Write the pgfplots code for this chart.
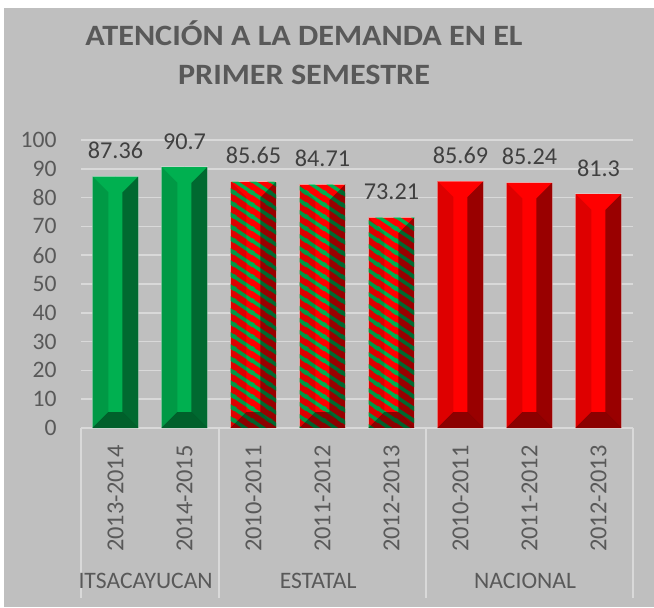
\documentclass[border=0pt]{standalone}
\usepackage{pgfplots}
\pgfplotsset{compat=1.18}
\usepackage{pgfplotstable}
\usepackage{fontspec}
\setmainfont{Carlito}
\usetikzlibrary{patterns}
\definecolor{bg}{HTML}{BFBFBF}
\definecolor{gridc}{HTML}{D9D9D9}
\definecolor{txt}{HTML}{595959}
\definecolor{lbl}{HTML}{404040}
\definecolor{gbar}{HTML}{00B050}
\definecolor{rbar}{HTML}{FF0000}

\pgfdeclarepatternformonly{estripes}{\pgfqpoint{0pt}{0pt}}{\pgfqpoint{9pt}{5.85pt}}{\pgfqpoint{9pt}{5.85pt}}{%
  \pgfsetlinewidth{1.8pt}%
  \pgfpathmoveto{\pgfqpoint{-4.5pt}{8.775pt}}\pgfpathlineto{\pgfqpoint{13.5pt}{-2.925pt}}%
  \pgfpathmoveto{\pgfqpoint{-4.5pt}{14.625pt}}\pgfpathlineto{\pgfqpoint{13.5pt}{2.925pt}}%
  \pgfpathmoveto{\pgfqpoint{-4.5pt}{2.925pt}}\pgfpathlineto{\pgfqpoint{13.5pt}{-8.775pt}}%
  \pgfusepath{stroke}%
}

\pgfplotstableread{
x y label
0 87.36 87.36
1 90.7 90.7
}\itsa
\pgfplotstableread{
x y label
2 85.65 85.65
3 84.71 84.71
4 73.21 73.21
}\estatal
\pgfplotstableread{
x y label
5 85.69 85.69
6 85.24 85.24
7 81.3 81.3
}\nacional

\newdimen\barH
\newdimen\barHi
\pgfplotsset{
  bevel/.style={scatter, only marks, mark=*, mark size=0pt,
    mark options={draw=none,fill=none},
    point meta=y,
    scatter/@pre marker code/.code={%
      \barH=\pgfplotspointmetatransformed pt
      \barH=-0.144\barH
      \barHi=\barH \advance\barHi by 8pt
      \path[draw=none,fill=black,fill opacity=0.13] (-11.5pt,0pt) -- (-3.5pt,-8pt) -- (-3.5pt,\barHi) -- (-11.5pt,\barH) -- cycle;
      \path[draw=none,fill=black,fill opacity=0.40] (11.5pt,0pt) -- (3.5pt,-8pt) -- (3.5pt,\barHi) -- (11.5pt,\barH) -- cycle;
      \path[draw=none,fill=black,fill opacity=0.45] (-11.5pt,\barH) -- (-3.5pt,\barHi) -- (3.5pt,\barHi) -- (11.5pt,\barH) -- cycle;
    },
    scatter/@post marker code/.code={},
  },
  mybar/.style={ybar, bar width=23pt, bar shift=0pt, draw=white, draw opacity=0.35, line width=0.4pt,
    nodes near coords, point meta=explicit symbolic,
    every node near coord/.append style={inner sep=0pt, yshift=8.5pt, text=lbl,
      font=\fontsize{12.1}{14}\selectfont}},
}

\begin{document}
\begin{tikzpicture}
\path[use as bounding box, fill=white] (0,0) rectangle (327pt,303.5pt);
\fill[bg] (2pt,0pt) rectangle (327pt,299.5pt);
\node[anchor=base, inner sep=0pt, text=txt, font=\fontsize{14.75}{17}\selectfont\bfseries] at (152pt,280.5pt) {\scalebox{1.09}[1]{ATENCIÓN A LA DEMANDA EN EL}};
\node[anchor=base, inner sep=0pt, text=txt, font=\fontsize{14.75}{17}\selectfont\bfseries] at (152pt,261.5pt) {\scalebox{1.09}[1]{PRIMER SEMESTRE}};
\begin{axis}[at={(40.5pt,89.5pt)}, anchor=south west, scale only axis,
  width=276pt, height=144pt,
  xmin=-0.5, xmax=7.5, ymin=0, ymax=100,
  point meta min=0, point meta max=100,
  ytick={0,10,...,100},
  xtick={0,...,7},
  xticklabels={2013-2014,2014-2015,2010-2011,2011-2012,2012-2013,2010-2011,2011-2012,2012-2013},
  axis line style={draw=none},
  major tick length=0pt,
  ymajorgrids, grid style={gridc, line width=0.8pt},
  /pgf/number format/assume math mode=true,
  ticklabel style={font=\fontsize{11.8}{13}\selectfont, text=txt},
  yticklabel style={inner sep=0pt},
  yticklabel shift=12pt,
  xticklabel style={rotate=90, anchor=east, inner sep=0pt, font=\fontsize{12.2}{14}\selectfont},
  xticklabel shift=8.5pt,
  clip=false,
]
\addplot[mybar, fill=gbar] table[x=x, y=y, meta=label]{\itsa};
\addplot[mybar, fill=rbar, postaction={pattern=estripes, pattern color=gbar}] table[x=x, y=y, meta=label]{\estatal};
\addplot[mybar, fill=rbar] table[x=x, y=y, meta=label]{\nacional};
\addplot[bevel] table[x=x, y=y]{\itsa};
\addplot[bevel] table[x=x, y=y]{\estatal};
\addplot[bevel] table[x=x, y=y]{\nacional};
\draw[gridc, line width=0.75pt] (axis cs:-0.5,0) -- ++(0pt,-85pt);
\draw[gridc, line width=0.75pt] (axis cs:1.5,0) -- ++(0pt,-85pt);
\draw[gridc, line width=0.75pt] (axis cs:4.5,0) -- ++(0pt,-85pt);
\draw[gridc, line width=0.75pt] (axis cs:7.5,0) -- ++(0pt,-85pt);
\node[anchor=base, inner sep=0pt, text=txt, font=\fontsize{11.8}{13}\selectfont, xshift=-2.2pt] at ([yshift=-80pt]axis cs:0.5,0) {ITSACAYUCAN};
\node[anchor=base, inner sep=0pt, text=txt, font=\fontsize{11.8}{13}\selectfont, xshift=-2.2pt] at ([yshift=-80pt]axis cs:3,0) {ESTATAL};
\node[anchor=base, inner sep=0pt, text=txt, font=\fontsize{11.8}{13}\selectfont, xshift=-2.2pt] at ([yshift=-80pt]axis cs:6,0) {NACIONAL};
\end{axis}
\end{tikzpicture}
\end{document}
